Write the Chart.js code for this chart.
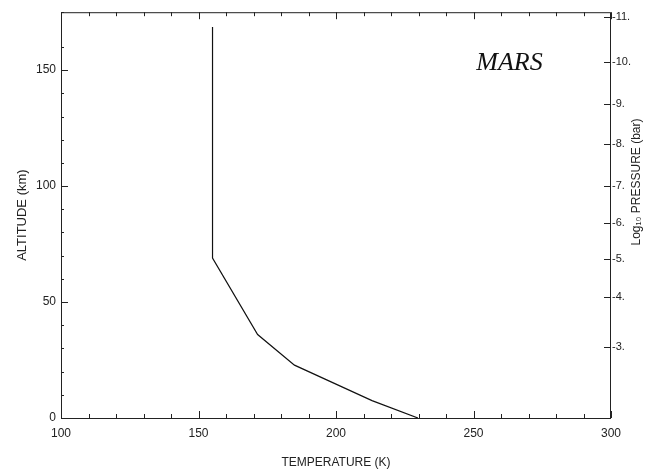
<!DOCTYPE html>
<html>
<head>
<meta charset="utf-8">
<script src="https://cdn.jsdelivr.net/npm/chart.js@4.4.1/dist/chart.umd.min.js"></script>
<style>
  html, body { margin: 0; padding: 0; background: #fff; }
  #wrap { width: 650px; height: 470px; }
</style>
</head>
<body>
<div id="wrap"><canvas id="c" width="650" height="470"></canvas></div>
<script>
// temperature profile of the Mars atmosphere
const temperatureK = [229.8, 213.1, 184.9, 171.5, 155.1, 155.1];
const altitudeKm   = [0, 7.5, 22.8, 36.0, 69.0, 168.6];

// labelled ticks
const tempTicks = [100, 150, 200, 250, 300];
const altTicks  = [0, 50, 100, 150];

// right axis: log10 pressure (bar) against altitude
const pressureLabels = ['-3.', '-4.', '-5.', '-6.', '-7.', '-8.', '-9.', '-10.', '-11.'];
const pressureAltKm  = [30.6, 52.0, 68.7, 84.1, 100.0, 118.0, 135.6, 153.5, 172.9];

const INK = '#222';
const FONT = { family: "'Liberation Sans', Arial, sans-serif", size: 12 };

// frame, inward ticks, right-hand title and the planet name
const framePlugin = {
  id: 'frame',
  afterDraw(chart) {
    const { ctx, chartArea: a, scales: { x, y, y2 } } = chart;
    ctx.save();
    ctx.strokeStyle = INK;
    ctx.lineWidth = 1;
    ctx.strokeRect(a.left + 0.5, a.top + 0.5, a.right - a.left - 1, a.bottom - a.top);

    ctx.beginPath();
    x.ticks.forEach(t => {
      const px = Math.round(x.getPixelForValue(t.value)) + 0.5;
      const len = t.value % 50 === 0 ? 7 : 4;
      ctx.moveTo(px, a.bottom); ctx.lineTo(px, a.bottom - len);
      ctx.moveTo(px, a.top);    ctx.lineTo(px, a.top + len);
    });
    y.ticks.forEach(t => {
      const py = Math.round(y.getPixelForValue(t.value)) + 0.5;
      const len = t.value % 50 === 0 ? 7 : 3;
      ctx.moveTo(a.left, py); ctx.lineTo(a.left + len, py);
    });
    y2.ticks.forEach(t => {
      const py = Math.round(y2.getPixelForValue(t.value)) + 0.5;
      ctx.moveTo(a.right, py); ctx.lineTo(a.right - 7, py);
    });
    ctx.stroke();

    // rotated right title (reads bottom to top)
    ctx.fillStyle = INK;
    ctx.font = `12px ${FONT.family}`;
    ctx.translate(637, 182);
    ctx.rotate(-Math.PI / 2);
    ctx.textAlign = 'center';
    ctx.textBaseline = 'middle';
    ctx.fillText('Log₁₀ PRESSURE (bar)', 0, 0);
    ctx.restore();

    ctx.save();
    ctx.fillStyle = '#111';
    ctx.font = "italic 26px 'Liberation Serif', 'DejaVu Serif', serif";
    ctx.textBaseline = 'alphabetic';
    ctx.fillText('MARS', x.getPixelForValue(251), y.getPixelForValue(150));
    ctx.restore();
  }
};

new Chart(document.getElementById('c'), {
  type: 'scatter',
  data: {
    datasets: [{
      data: temperatureK.map((t, i) => ({ x: t, y: altitudeKm[i] })),
      showLine: true,
      borderColor: '#111',
      borderWidth: 1.2,
      pointRadius: 0,
      tension: 0
    }]
  },
  options: {
    responsive: false,
    animation: false,
    devicePixelRatio: 1,
    layout: { padding: { top: 9, left: 0, right: 0, bottom: 0 } },
    plugins: { legend: { display: false }, tooltip: { enabled: false } },
    scales: {
      x: {
        type: 'linear', position: 'bottom', min: 100, max: 300,
        ticks: {
          stepSize: 10, autoSkip: false, maxRotation: 0, padding: 8,
          color: INK, font: FONT,
          callback: v => tempTicks.includes(v) ? String(v) : ''
        },
        grid: { display: false, drawTicks: false },
        border: { display: false },
        title: { display: true, text: 'TEMPERATURE (K)', color: INK, font: FONT, padding: { top: 0, bottom: 0 } },
        afterFit: s => { s.height = 52; }
      },
      y: {
        type: 'linear', position: 'left', min: 0, max: 175,
        ticks: {
          stepSize: 10, autoSkip: false, padding: 5,
          color: INK, font: FONT,
          callback: v => altTicks.includes(v) ? String(v) : ''
        },
        grid: { display: false, drawTicks: false },
        border: { display: false },
        title: { display: true, text: 'ALTITUDE (km)', color: INK, font: { family: FONT.family, size: 13 }, padding: { top: 15, bottom: 0 } },
        afterFit: s => { s.width = 61; }
      },
      y2: {
        type: 'linear', position: 'right', min: 0, max: 175,
        afterBuildTicks: s => { s.ticks = pressureAltKm.map(v => ({ value: v })); },
        ticks: {
          autoSkip: false, padding: 1, color: INK,
          font: { family: FONT.family, size: 11 },
          callback: (v, i) => pressureLabels[i]
        },
        grid: { display: false, drawTicks: false },
        border: { display: false },
        afterFit: s => { s.width = 39; }
      }
    }
  },
  plugins: [framePlugin]
});
</script>
</body>
</html>
